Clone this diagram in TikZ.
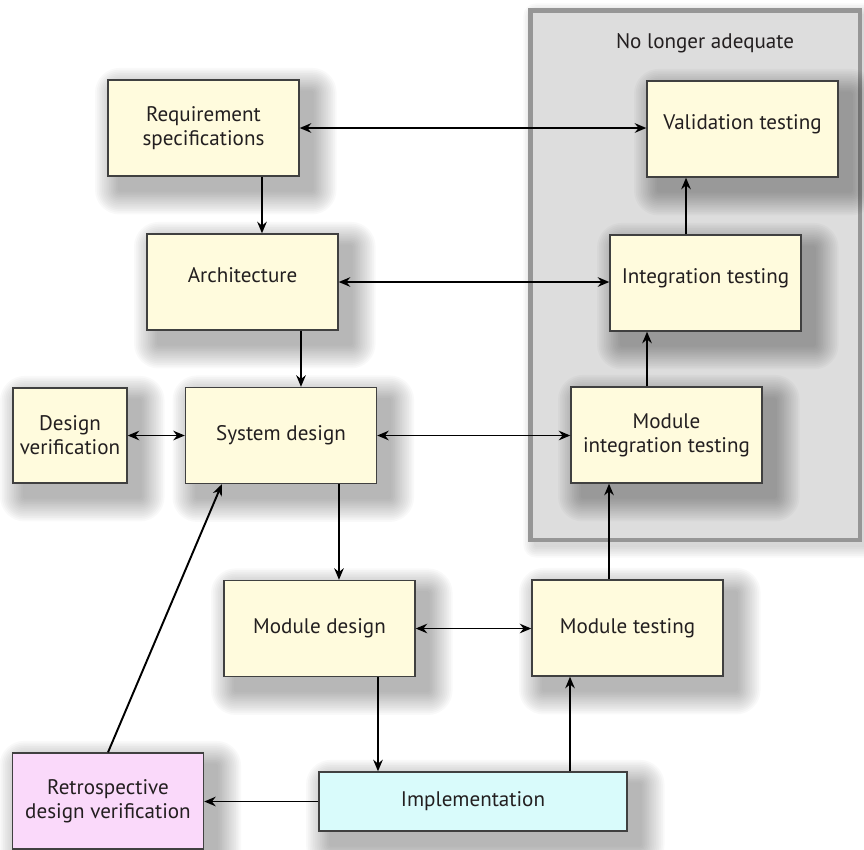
\documentclass[tikz,border=0pt]{standalone}
\usepackage{fontspec}
\setmainfont{PT Sans}
\usepackage{xcolor}
\usepackage{tikz}
\usetikzlibrary{positioning,calc,arrows.meta}
\definecolor{boxcream}{RGB}{255,251,221}
\definecolor{retropink}{RGB}{250,217,250}
\definecolor{implcyan}{RGB}{217,251,251}
\definecolor{zonegray}{RGB}{221,221,221}
\definecolor{zoneedge}{RGB}{150,150,150}
\definecolor{edgegray}{RGB}{64,64,64}
\definecolor{textdark}{RGB}{35,31,32}

\pgfdeclarelayer{zone}
\pgfdeclarelayer{shade}
\pgfsetlayers{zone,shade,main}

\tikzset{
  stage/.style={draw=edgegray, line width=0.8pt, fill=boxcream, align=center,
    minimum width=3.82cm, minimum height=1.92cm, inner sep=0pt, text=textdark,
    font=\fontsize{12}{13.5}\selectfont},
  lifted/.style={text depth=0.28cm},
  shadelayer/.style={black, opacity=0.022},
  arr/.style={line width=1.1pt, -{Stealth[length=2.3mm,width=1.9mm]}},
  biarr/.style={line width=1.1pt,
    {Stealth[length=2.3mm,width=1.9mm]}-{Stealth[length=2.3mm,width=1.9mm]}}
}

\begin{document}
\begin{tikzpicture}[x=0.02cm, y=-0.02cm]
    \useasboundingbox (0,0) rectangle (864,849);

    % Zone of testing no longer adequate
    \coordinate (zonesw) at (530.5,540);
    \coordinate (zonene) at (860,10.5);
    \begin{pgfonlayer}{zone}
      \foreach \s in {1,...,7}
        \fill[shadelayer, opacity=0.025, rounded corners=\s*1pt]
          ([xshift=3pt-\s*1pt, yshift=-3pt-\s*1pt]zonesw)
          rectangle ([xshift=3pt+\s*1pt, yshift=-3pt+\s*1pt]zonene);
      \draw[draw=zoneedge, line width=2.8pt, fill=zonegray] (zonesw) rectangle (zonene);
    \end{pgfonlayer}
    \node[text=textdark, font=\fontsize{12}{13.5}\selectfont] (zonelabel) at (705,43) {No longer adequate};

    % Stages
    \node[stage] (req) at (203.5,128) {Requirement\\specifications};
    \node[stage, lifted] (val) at (742.5,129) {Validation testing};
    \node[stage, lifted] (arch) at (242.5,282) {Architecture};
    \node[stage, lifted] (integ) at (705.5,283) {Integration testing};
    \node[stage, minimum width=2.28cm, minimum height=1.9cm] (dv) at (70,435.5) {Design\\verification};
    \node[stage] (sys) at (281,435.5) {System design};
    \node[stage] (mit) at (666.5,435) {Module\\integration testing};
    \node[stage] (md) at (319.5,628.5) {Module design};
    \node[stage] (mt) at (627.5,628) {Module testing};
    \node[stage, fill=implcyan, minimum width=6.16cm, minimum height=1.18cm] (impl) at (473,801.5) {Implementation};
    \node[stage, fill=retropink] (retro) at (108,801) {Retrospective\\design verification};

    % Soft shadows
    \begin{pgfonlayer}{shade}
      \foreach \n in {req,val,arch,integ,dv,sys,mit,md,mt,impl,retro}
        \foreach \s in {1,...,14}
          \fill[shadelayer, rounded corners=\s*1pt]
            ([xshift=7pt-\s*1pt, yshift=-7.5pt-\s*1pt]\n.south west)
            rectangle ([xshift=7pt+\s*1pt, yshift=-7.5pt+\s*1pt]\n.north east);
    \end{pgfonlayer}

    % Both-way links
    \draw[biarr] (req.east) -- (req.east -| val.west);
    \draw[biarr] (arch.east) -- (arch.east -| integ.west);
    \draw[biarr] (dv.east) -- (dv.east -| sys.west);
    \draw[biarr] (sys.east) -- (sys.east -| mit.west);
    \draw[biarr] (md.east) -- (md.east -| mt.west);

    % Down the left side
    \draw[arr] ([xshift=1.17cm]req.south) -- ([xshift=1.17cm]req.south |- arch.north);
    \draw[arr] ([xshift=1.17cm]arch.south) -- ([xshift=1.17cm]arch.south |- sys.north);
    \draw[arr] ([xshift=1.16cm]sys.south) -- ([xshift=1.16cm]sys.south |- md.north);
    \draw[arr] ([xshift=1.17cm]md.south) -- ([xshift=1.17cm]md.south |- impl.north);

    % Up the right side
    \draw[arr] ([xshift=-1.15cm]mt.south |- impl.north) -- ([xshift=-1.15cm]mt.south);
    \draw[arr] ([xshift=-1.15cm]mit.south |- mt.north) -- ([xshift=-1.15cm]mit.south);
    \draw[arr] ([xshift=-1.17cm]integ.south |- mit.north) -- ([xshift=-1.17cm]integ.south);
    \draw[arr] ([xshift=-1.13cm]val.south |- integ.north) -- ([xshift=-1.13cm]val.south);

    % Retrospective loop
    \draw[arr] (impl.west) -- (impl.west -| retro.east);
    \draw[arr] (retro.north) -- ([xshift=0.74cm]sys.south west);
\end{tikzpicture}
\end{document}
